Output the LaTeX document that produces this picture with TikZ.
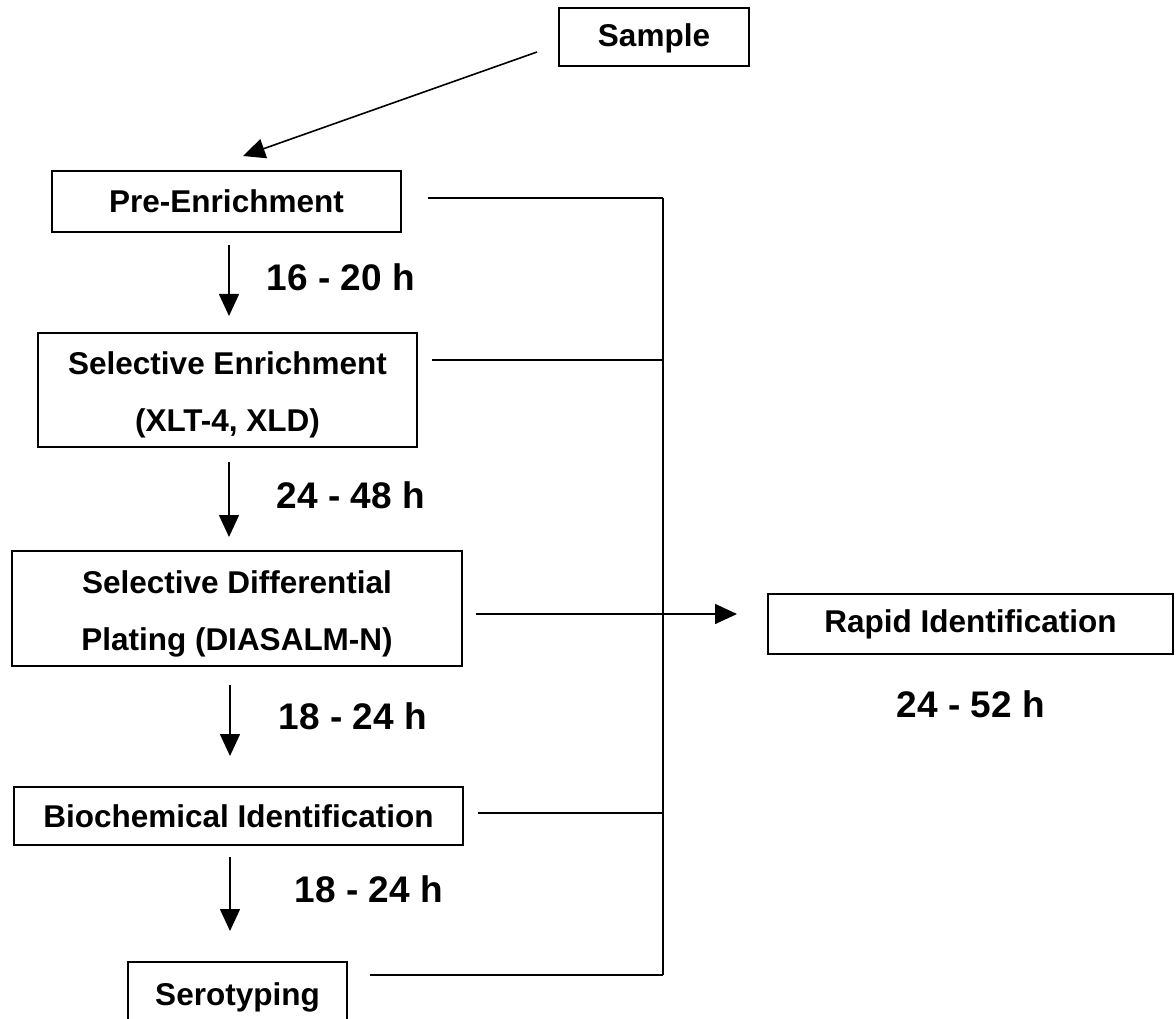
\documentclass[tikz,border=0pt]{standalone}
\usepackage{fontspec}
\setmainfont{Liberation Sans}
\usetikzlibrary{arrows.meta}
\begin{document}
\begin{tikzpicture}[x=1pt,y=-1pt,
  box/.style={draw,line width=1.6pt,inner sep=0pt,align=center,font=\fontsize{31.5}{57}\selectfont\bfseries},
  boxtext/.style={inner sep=0pt,align=center,font=\fontsize{31.5}{57}\selectfont\bfseries},
  timelbl/.style={inner sep=0pt,font=\fontsize{37}{40}\selectfont\bfseries},
  link/.style={line width=1.6pt},
  arr/.style={line width=1.6pt,-{Triangle[length=22pt,width=20pt]}}]
\useasboundingbox (0,0) rectangle (1176,1019);
\node[box,minimum width=190pt,minimum height=58pt,text height=25pt] (sample) at (654,37) {Sample};
\node[box,minimum width=349pt,minimum height=61pt] (pre) at (226.5,201.5) {Pre-Enrichment};
\node[box,minimum width=379pt,minimum height=114pt] (sel) at (227.5,390) {};
\node[boxtext] (selt) at ([yshift=-5pt]sel.center) {Selective Enrichment\\(XLT-4, XLD)};
\node[box,minimum width=450pt,minimum height=115pt] (dif) at (237,608.5) {};
\node[boxtext] (dift) at ([yshift=-5pt]dif.center) {Selective Differential\\Plating (DIASALM-N)};
\node[box,minimum width=449pt,minimum height=58pt] (bio) at (238.5,816) {Biochemical Identification};
\node[box,minimum width=219pt,minimum height=70pt] (sero) at (237.5,997) {Serotyping};
\node[box,minimum width=405pt,minimum height=60pt] (rapid) at (970.5,624) {Rapid Identification};

\node[timelbl] (t1) at (341,277) {16 - 20 h};
\node[timelbl] (t2) at (351,495) {24 - 48 h};
\node[timelbl] (t3) at (353,716) {18 - 24 h};
\node[timelbl] (t4) at (369,889) {18 - 24 h};
\node[timelbl] (t5) at (971,704) {24 - 52 h};

% sample arrow
\coordinate (s0) at (537,52);
\coordinate (s1) at (243,156);
\draw[arr] (s0) -- (s1);

% down arrows
\coordinate (a1) at (229,245); \coordinate (b1) at (229,316);
\coordinate (a2) at (229,462); \coordinate (b2) at (229,537);
\coordinate (a3) at (230,685); \coordinate (b3) at (230,756);
\coordinate (a4) at (230,857); \coordinate (b4) at (230,931);
\draw[arr] (a1) -- (b1);
\draw[arr] (a2) -- (b2);
\draw[arr] (a3) -- (b3);
\draw[arr] (a4) -- (b4);

% trunk
\coordinate (k1) at (663,198);
\coordinate (k2) at (663,360);
\coordinate (k3) at (663,614);
\coordinate (k4) at (663,813);
\coordinate (k5) at (663,975);
\coordinate (r0) at (737,614);
\draw[link] (k1) -- (k5);
\draw[link] (428,198) -- (k1);
\draw[link] (432,360) -- (k2);
\draw[link] (478,813) -- (k4);
\draw[link] (370,975) -- (k5);
\draw[arr] (476,614) -- (r0);
\end{tikzpicture}
\end{document}
